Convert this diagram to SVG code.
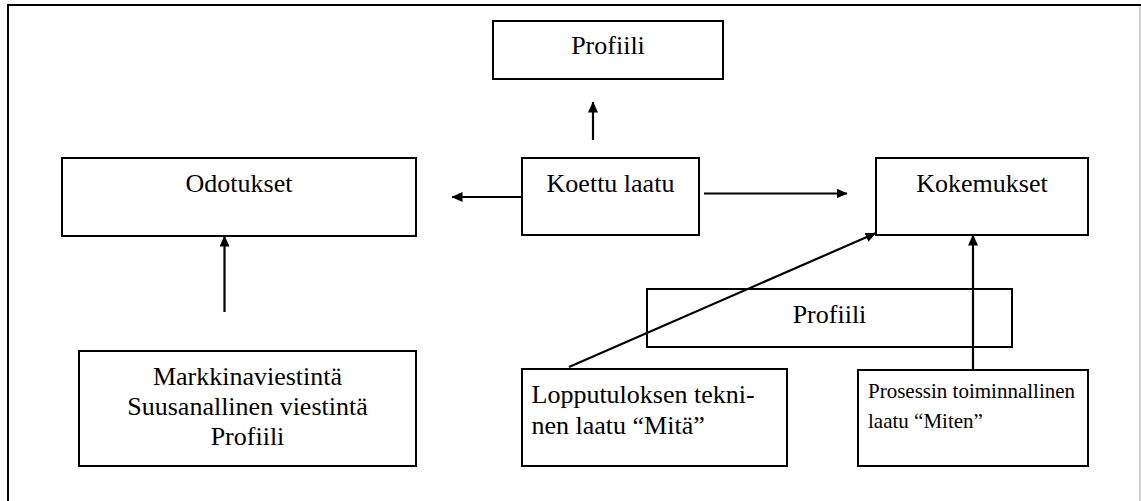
<svg xmlns="http://www.w3.org/2000/svg" width="1141" height="501" viewBox="0 0 1141 501">
  <style>
    .box { fill: #ffffff; stroke: #000000; stroke-width: 2; }
    .lbl { font-family: 'Liberation Serif', 'Times New Roman', Times, 'DejaVu Serif', serif; font-size: 26px; fill: #000000; }
    .mid { text-anchor: middle; }
    .small { font-size: 21px; }
    .conn { stroke: #000000; stroke-width: 2.2; fill: none; marker-end: url(#head); }
  </style>
  <defs>
    <marker id="head" markerUnits="userSpaceOnUse" markerWidth="11" markerHeight="10" refX="10.5" refY="5" orient="auto">
      <path d="M0,0 L11,5 L0,10 z" fill="#000000"/>
    </marker>
  </defs>

  <rect width="1141" height="501" fill="#ffffff"/>

  <!-- outer frame (open at the bottom) -->
  <g id="frame">
    <line x1="1140" y1="5" x2="1140" y2="501" stroke="#b0b0b0" stroke-width="1.2"/>
    <line x1="8" y1="5" x2="1141" y2="5" stroke="#000000" stroke-width="2"/>
    <line x1="8" y1="4" x2="8" y2="501" stroke="#000000" stroke-width="2"/>
  </g>

  <g id="profiili-top">
    <rect class="box" x="493" y="21" width="230" height="58"/>
    <text class="lbl mid" x="608" y="54">Profiili</text>
  </g>

  <g id="odotukset">
    <rect class="box" x="62" y="158" width="354" height="78"/>
    <text class="lbl mid" x="239" y="192">Odotukset</text>
  </g>

  <g id="koettu-laatu">
    <rect class="box" x="522" y="158" width="177" height="77"/>
    <text class="lbl mid" x="610.5" y="192">Koettu laatu</text>
  </g>

  <g id="kokemukset">
    <rect class="box" x="876" y="158" width="212" height="77"/>
    <text class="lbl mid" x="982" y="192">Kokemukset</text>
  </g>

  <g id="profiili-mid">
    <rect class="box" x="647" y="289" width="365" height="58"/>
    <text class="lbl mid" x="829.5" y="323">Profiili</text>
  </g>

  <g id="viestinta">
    <rect class="box" x="79" y="351" width="337" height="115"/>
    <text class="lbl mid" x="247.5" y="385">Markkinaviestintä</text>
    <text class="lbl mid" x="247.5" y="414.5">Suusanallinen viestintä</text>
    <text class="lbl mid" x="247.5" y="445">Profiili</text>
  </g>

  <g id="lopputulos">
    <rect class="box" x="522" y="369" width="265" height="97"/>
    <text class="lbl" x="531.5" y="403">Lopputuloksen tekni-</text>
    <text class="lbl" x="531.5" y="434">nen laatu “Mitä”</text>
  </g>

  <g id="prosessi">
    <rect class="box" x="858" y="370" width="230" height="96"/>
    <text class="lbl small" x="868" y="398">Prosessin toiminnallinen</text>
    <text class="lbl small" x="868" y="428">laatu “Miten”</text>
  </g>

  <g id="connectors">
    <line class="conn" x1="593" y1="140" x2="593" y2="102"/>
    <line class="conn" x1="522" y1="197" x2="452" y2="197"/>
    <line class="conn" x1="704" y1="193.5" x2="847" y2="193.5"/>
    <line class="conn" x1="224.5" y1="312" x2="224.5" y2="236"/>
    <line class="conn" x1="569" y1="367" x2="876" y2="233"/>
    <line class="conn" x1="973" y1="370" x2="973" y2="235"/>
  </g>
</svg>
